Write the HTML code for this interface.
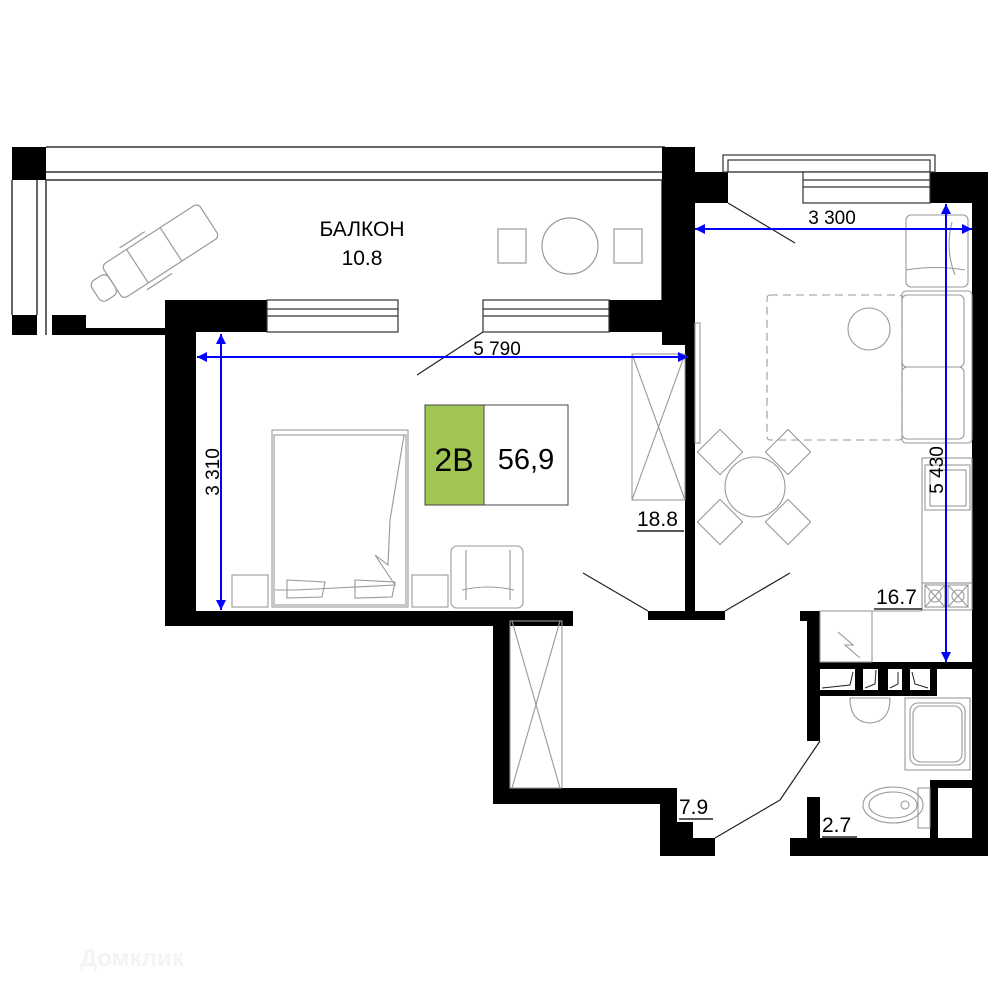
<!DOCTYPE html>
<html><head><meta charset="utf-8"><style>
html,body{margin:0;padding:0;background:#fff}
svg{display:block}
text{font-family:"Liberation Sans",sans-serif}
</style></head><body>
<svg width="1000" height="1000" viewBox="0 0 1000 1000" xmlns="http://www.w3.org/2000/svg">
<defs>
<marker id="a" viewBox="0 0 10 10" refX="10" refY="5" markerWidth="14" markerHeight="10" orient="auto-start-reverse" markerUnits="userSpaceOnUse"><path d="M0,0 L10,5 L0,10z" fill="#0000ff"/></marker>
</defs>
<!-- balcony -->
<g fill="none" stroke="#333" stroke-width="1.5">
<line x1="46" y1="147" x2="665" y2="147"/><line x1="46" y1="172" x2="665" y2="172"/><line x1="46" y1="180" x2="665" y2="180"/>
<line x1="12" y1="180" x2="12" y2="315"/><line x1="37" y1="180" x2="37" y2="315"/><line x1="46" y1="180" x2="46" y2="335"/>
<line x1="662" y1="180" x2="662" y2="300"/>
</g>
<g fill="#000">
<rect x="12" y="147" width="34" height="33"/>
<rect x="12" y="315" width="25" height="20"/>
<rect x="52" y="315" width="34" height="20"/>
<rect x="86" y="328" width="100" height="7"/>
</g>
<g fill="none" stroke="#999" stroke-width="1.2">
<g transform="translate(150,258) rotate(-33)">
<rect x="-45" y="-20" width="115" height="40" rx="5"/><line x1="-15" y1="-20" x2="-15" y2="20"/><line x1="25" y1="-20" x2="25" y2="20"/>
<rect x="-65" y="-12" width="20" height="24" rx="6"/><line x1="-20" y1="-25" x2="10" y2="-25"/><line x1="-20" y1="25" x2="10" y2="25"/>
</g>
<rect x="498" y="229" width="28" height="34"/><rect x="614" y="229" width="28" height="34"/><circle cx="570" cy="246" r="28"/>
</g>
<text x="362" y="236" font-size="21" text-anchor="middle">БАЛКОН</text>
<text x="362" y="265" font-size="21" text-anchor="middle">10.8</text>
<!-- walls -->
<g fill="#000">
<rect x="165" y="300" width="102" height="32"/>
<rect x="165" y="300" width="31" height="326"/>
<rect x="165" y="611" width="408" height="15"/>
<rect x="609" y="300" width="53" height="32"/>
<rect x="662" y="147" width="33" height="198"/>
<rect x="685" y="147" width="10" height="465"/>
<rect x="648" y="611" width="77" height="9"/>
<rect x="694" y="172" width="34" height="31"/>
<rect x="930" y="172" width="58" height="31"/>
<rect x="972" y="172" width="16" height="684"/>
<rect x="493" y="611" width="17" height="193"/>
<rect x="493" y="788" width="184" height="16"/>
<rect x="660" y="788" width="17" height="68"/>
<rect x="660" y="822" width="33" height="34"/>
<rect x="660" y="838" width="55" height="18"/>
<rect x="800" y="611" width="20" height="10"/>
<rect x="807" y="611" width="13" height="130"/>
<rect x="807" y="662" width="165" height="7"/>
<rect x="807" y="690" width="130" height="6"/>
<rect x="855" y="662" width="8" height="34"/><rect x="878" y="662" width="10" height="34"/><rect x="902" y="662" width="8" height="34"/>
<rect x="930" y="662" width="7" height="34"/>
<rect x="930" y="780" width="42" height="8"/>
<rect x="930" y="780" width="8" height="76"/>
<rect x="807" y="797" width="13" height="59"/>
<rect x="790" y="838" width="198" height="18"/>
</g>
<g fill="none" stroke="#222" stroke-width="1">
<path d="M822,688 L850,685 L853,672 M865,688 L875,684 L876,670 M890,688 L898,684 L898,672 M912,672 L915,684 L928,688"/>
</g>
<!-- windows -->
<g fill="#fff" stroke="#333" stroke-width="1.2">
<rect x="267" y="300" width="131" height="32"/><line x1="267" y1="309" x2="398" y2="309"/><line x1="267" y1="316" x2="398" y2="316"/>
<rect x="483" y="300" width="126" height="32"/><line x1="483" y1="309" x2="609" y2="309"/><line x1="483" y1="316" x2="609" y2="316"/>
<rect x="723" y="155" width="212" height="17" fill="none"/><rect x="728" y="160" width="202" height="12" fill="none"/>
<rect x="803" y="172" width="127" height="31"/><line x1="803" y1="180" x2="930" y2="180"/><line x1="803" y1="187" x2="930" y2="187"/>
</g>
<!-- door swings -->
<g stroke="#222" stroke-width="1.2" fill="none">
<line x1="483" y1="332" x2="417" y2="375"/>
<line x1="728" y1="203" x2="795" y2="243"/>
<line x1="583" y1="573" x2="648" y2="611"/>
<line x1="725" y1="611" x2="790" y2="573"/>
<line x1="820" y1="741" x2="780" y2="800"/>
<line x1="715" y1="838" x2="780" y2="800"/>
</g>
<!-- bedroom furniture -->
<g fill="none" stroke="#999" stroke-width="1.1">
<rect x="272" y="430" width="136" height="177"/><rect x="274" y="435" width="132" height="170"/>
<path d="M404,435 L390,520 L388,565 L375,555 L395,585 L295,590 L275,590"/>
<path d="M287,580 L325,582 L322,597 L287,598z M355,580 L395,582 L392,597 L355,598z"/>
<rect x="232" y="575" width="36" height="32"/><rect x="412" y="575" width="36" height="32"/>
<rect x="451" y="546" width="72" height="62" rx="6"/><path d="M466,550 L466,600 M510,550 L510,600 M462,590 Q488,584 514,590"/>
<rect x="632" y="354" width="53" height="146"/><path d="M632,354 L685,500 M685,354 L632,500"/>
<rect x="510" y="621" width="52" height="167"/><path d="M512,621 L560,788 M560,621 L512,788"/>
<rect x="695" y="323" width="5" height="120"/>
</g>
<!-- living furniture -->
<g fill="none" stroke="#999" stroke-width="1.1">
<rect x="767" y="295" width="135" height="145" rx="3" stroke-dasharray="8,5"/>
<circle cx="869" cy="329" r="21"/>
<rect x="906" y="215" width="62" height="72" rx="5"/><path d="M906,270 Q935,265 965,270 M952,222 Q945,250 955,275"/>
<rect x="902" y="291" width="70" height="152" rx="4"/><rect x="902" y="295" width="62" height="72" rx="5"/><rect x="902" y="367" width="62" height="72" rx="5"/>
<circle cx="755" cy="487" r="30"/>
<g transform="translate(720,452) rotate(45)"><rect x="-16" y="-16" width="32" height="32"/></g>
<g transform="translate(788,452) rotate(45)"><rect x="-16" y="-16" width="32" height="32"/></g>
<g transform="translate(720,522) rotate(45)"><rect x="-16" y="-16" width="32" height="32"/></g>
<g transform="translate(788,522) rotate(45)"><rect x="-16" y="-16" width="32" height="32"/></g>
<rect x="922" y="458" width="50" height="125"/><rect x="925" y="465" width="45" height="45"/><rect x="930" y="470" width="36" height="36"/>
<rect x="922" y="583" width="50" height="27"/><rect x="925" y="585" width="20" height="22"/><rect x="948" y="585" width="20" height="22"/>
<path d="M925,585 L945,607 M945,585 L925,607 M948,585 L968,607 M968,585 L948,607"/>
<circle cx="935" cy="596" r="6"/><circle cx="958" cy="596" r="6"/>
<rect x="820" y="611" width="52" height="51"/><line x1="872" y1="611" x2="922" y2="611"/><line x1="922" y1="583" x2="922" y2="611"/>
<path d="M838,632 L853,645 L845,645 L860,658"/>
<path d="M850,698 L890,698 Q890,722 870,723 Q850,722 850,698z"/>
<rect x="905" y="698" width="65" height="72"/><rect x="910" y="703" width="55" height="62" rx="8"/><rect x="913" y="706" width="49" height="56" rx="8"/>
<ellipse cx="893" cy="805" rx="30" ry="18"/><ellipse cx="893" cy="805" rx="24" ry="13"/><circle cx="905" cy="805" r="4"/>
<rect x="918" y="788" width="12" height="40"/>
</g>
<!-- label -->
<rect x="425" y="405" width="59" height="100" fill="#a1c654" stroke="#444"/>
<rect x="484" y="405" width="84" height="100" fill="#fff" stroke="#444"/>
<text x="454" y="471" font-size="32" text-anchor="middle">2В</text>
<text x="526" y="469" font-size="29" text-anchor="middle">56,9</text>
<!-- dimensions -->
<g stroke="#0000ff" stroke-width="2" marker-start="url(#a)" marker-end="url(#a)">
<line x1="197" y1="357" x2="688" y2="357"/>
<line x1="221" y1="334" x2="221" y2="610"/>
<line x1="695" y1="229" x2="972" y2="229"/>
<line x1="946" y1="204" x2="946" y2="662"/>
</g>
<text x="497" y="355" font-size="19" text-anchor="middle">5 790</text>
<text x="832" y="224" font-size="19" text-anchor="middle">3 300</text>
<text transform="translate(219,472) rotate(-90)" font-size="19" text-anchor="middle">3 310</text>
<text transform="translate(943,470) rotate(-90)" font-size="19" text-anchor="middle">5 430</text>
<g font-size="21">
<text x="637" y="526">18.8</text>
<text x="876" y="604">16.7</text>
<text x="679" y="814">7.9</text>
<text x="822" y="832">2.7</text>
</g>
<g stroke="#222" stroke-width="1.5"><line x1="637" y1="531" x2="684" y2="531"/><line x1="874" y1="609" x2="922" y2="609"/><line x1="679" y1="819" x2="713" y2="819"/><line x1="822" y1="837" x2="857" y2="837"/></g>
<text x="80" y="966" font-size="24" font-weight="bold" fill="#f4f4f4">Домклик</text>
</svg>
</body></html>
